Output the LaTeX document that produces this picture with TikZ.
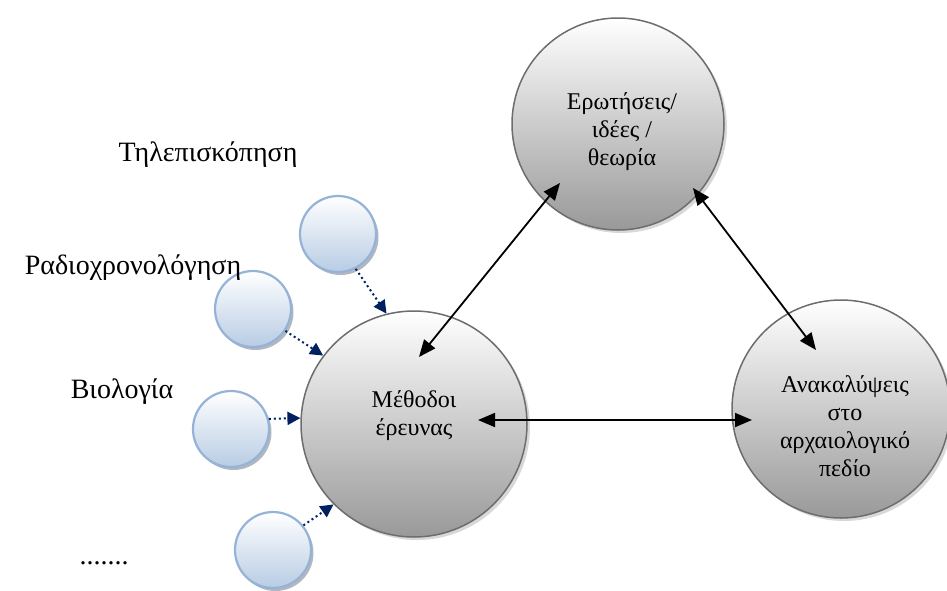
\documentclass[tikz,border=0pt]{standalone}
\usepackage{fontspec}
\setmainfont{Liberation Serif}
\usetikzlibrary{arrows.meta,shapes,positioning,shadows}
\definecolor{rimgray}{HTML}{6D6D6D}
\definecolor{rimblue}{HTML}{95B3D7}
\definecolor{fillblue}{HTML}{B8CCE4}
\definecolor{navy}{HTML}{002060}
\tikzset{
  bigcirc/.style={circle,draw=rimgray,line width=1.5pt,inner sep=0pt,
    top color=white,bottom color=black!40,
    drop shadow={shadow xshift=3pt,shadow yshift=-3pt,fill=black!30}},
  circtext/.style={align=center,font=\fontsize{24}{28}\selectfont},
  smallcirc/.style={circle,draw=rimblue,line width=2.2pt,minimum size=76pt,
    inner sep=0pt,top color=white,bottom color=fillblue,
    drop shadow={shadow xshift=2.5pt,shadow yshift=-3pt,fill=black!45!fillblue}},
  tag/.style={font=\fontsize{28}{32}\selectfont},
  bigarrow/.style={line width=1.8pt,{Triangle[length=17pt,width=14pt]}-{Triangle[length=17pt,width=14pt]}},
  dotarrow/.style={navy,line width=2pt,dash pattern=on 2pt off 3pt,-{Triangle[length=13pt,width=13pt]}}
}
\begin{document}
\begin{tikzpicture}[x=1pt,y=-1pt]
  \useasboundingbox (0,0) rectangle (947,590);
  % big circles
  \node[bigcirc,minimum size=212pt] (quest) at (618,124) {};
  \node[bigcirc,minimum size=226pt] (meth) at (414,424) {};
  \node[bigcirc,minimum size=218pt] (finds) at (841,409) {};
  \node[circtext] (questtext) at ([shift={(4,8)}]quest.center) {Ερωτήσεις/\\ιδέες /\\θεωρία};
  \node[circtext] (methtext) at ([shift={(0,-8)}]meth.center) {Μέθοδοι\\έρευνας};
  \node[circtext] (findstext) at ([shift={(4,17)}]finds.center) {Ανακαλύψεις\\στο\\αρχαιολογικό\\πεδίο};
  % small circles
  \node[smallcirc] (s1) at (338,234) {};
  \node[smallcirc] (s2) at (253,309) {};
  \node[smallcirc] (s3) at (231,429) {};
  \node[smallcirc] (s4) at (273,550) {};
  % labels
  \node[tag] (tele) at (208,155) {Τηλεπισκόπηση};
  \node[tag] (radio) at (133,268) {Ραδιοχρονολόγηση};
  \node[tag] (bio) at (122,392) {Βιολογία};
  \node[tag] (more) at (104,563) {.......};
  % arrows
  \draw[bigarrow] ([shift={(5,-67)}]meth.center) -- ([shift={(-58,59)}]quest.center);
  \draw[bigarrow] ([shift={(75,64)}]quest.center) -- ([shift={(-25,-59)}]finds.center);
  \draw[bigarrow] ([shift={(64,-4)}]meth.center) -- ([shift={(-89,11)}]finds.center);
  \draw[dotarrow] (s1.-63) -- (meth.104);
  \draw[dotarrow] (s2.-34) -- (meth.143);
  \draw[dotarrow] (s3.15) -- (meth.177);
  \draw[dotarrow] (s4.39) -- (meth.225);
\end{tikzpicture}
\end{document}
